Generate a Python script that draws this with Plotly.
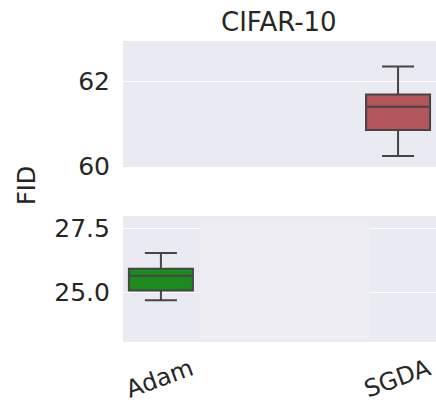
import plotly.graph_objects as go

categories = ["Adam", "SGDA"]
lower = [24.68, 60.24]
q1 = [25.06, 60.85]
median = [25.64, 61.40]
q3 = [25.92, 61.69]
upper = [26.54, 62.35]
colors = ["#1c8a1c", "#b3565b"]

top_ticks = [60, 62]
bottom_ticks = [25.0, 27.5]
bottom_ticktext = ["25.0", "27.5"]

FONT = "DejaVu Sans"
TXT = "#262626"
LINE = "#454545"

fig = go.Figure()
for yaxis, xaxis in [("y", "x"), ("y2", "x2")]:
    for i, cat in enumerate(categories):
        fig.add_trace(go.Box(
            x=[cat], q1=[q1[i]], median=[median[i]], q3=[q3[i]],
            lowerfence=[lower[i]], upperfence=[upper[i]],
            fillcolor=colors[i], line=dict(color=LINE, width=2),
            width=0.27, whiskerwidth=0.5, boxpoints=False,
            xaxis=xaxis, yaxis=yaxis, showlegend=False, hoverinfo="skip",
        ))

xr = [-0.16, 1.16]
fig.update_layout(
    width=436, height=400,
    margin=dict(l=0, r=0, t=0, b=0, autoexpand=False),
    paper_bgcolor="white", plot_bgcolor="#EAEAF2",
    font=dict(family=FONT, color=TXT, size=24),
    xaxis=dict(domain=[0.282, 1.0], anchor="y", type="category",
               categoryorder="array", categoryarray=categories,
               range=xr, showgrid=False, zeroline=False, tickangle=-20,
               tickfont=dict(size=24), ticklabelstandoff=8, ticklabelshift=30,
               automargin=False),
    xaxis2=dict(domain=[0.282, 1.0], anchor="y2", type="category",
                categoryorder="array", categoryarray=categories,
                range=xr, showgrid=False, zeroline=False, showticklabels=False,
                automargin=False),
    yaxis=dict(domain=[0.145, 0.46], anchor="x", range=[23.03, 28.0],
               tickvals=bottom_ticks, ticktext=bottom_ticktext,
               gridcolor="white", gridwidth=1.2, zeroline=False,
               ticklabelstandoff=12, tickfont=dict(size=25), automargin=False),
    yaxis2=dict(domain=[0.5825, 0.8975], anchor="x2", range=[59.98, 62.95],
                tickvals=top_ticks, gridcolor="white", gridwidth=1.2,
                zeroline=False, ticklabelstandoff=12, tickfont=dict(size=25),
                automargin=False),
    annotations=[
        dict(text="CIFAR-10", xref="paper", yref="paper", x=0.641, y=0.945,
             xanchor="center", yanchor="middle", showarrow=False,
             font=dict(size=26, color=TXT)),
        dict(text="FID", xref="paper", yref="paper", x=0.062, y=0.535,
             xanchor="center", yanchor="middle", showarrow=False, textangle=-90,
             font=dict(size=24, color=TXT)),
    ],
    shapes=[
        dict(type="rect", xref="paper", yref="paper",
             x0=0.459, x1=0.847, y0=0.15, y1=0.448,
             fillcolor="#EDEDF2", line=dict(width=0), layer="above"),
    ],
)

fig.write_html("out.html")
